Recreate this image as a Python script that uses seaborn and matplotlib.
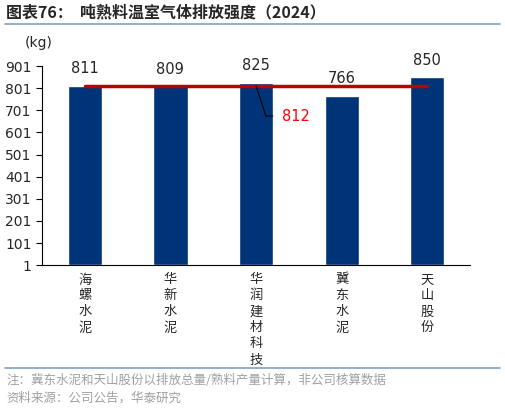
import numpy as np
import pandas as pd
import matplotlib
matplotlib.use("Agg")
import matplotlib.pyplot as plt
import seaborn as sns

# 数据
companies = ["海螺水泥", "华新水泥", "华润建材科技", "冀东水泥", "天山股份"]
emissions = [811, 809, 825, 766, 850]
avg_value = 812
y_ticks = [1, 101, 201, 301, 401, 501, 601, 701, 801, 901]

sns.set_style("white")
plt.rcParams['font.family'] = ['Noto Sans CJK SC', 'DejaVu Sans']

df = pd.DataFrame({"company": companies, "value": emissions})

fig = plt.figure(figsize=(5.05, 4.13), dpi=100)
ax = fig.add_axes([0.083, 0.358, 0.848, 0.482])

sns.barplot(data=df, x="company", y="value", color="#003478", width=0.4,
            saturation=1, ax=ax)

# 平均线
ax.plot([0, len(companies) - 1], [avg_value, avg_value], color="#C00000", lw=2.5)

for i, v in enumerate(emissions):
    ax.annotate(str(v), (i, v), xytext=(0, 7), textcoords="offset points",
                ha="center", va="bottom", fontsize=10.5, family="DejaVu Sans")

ax.annotate(str(avg_value), xy=(2.0, avg_value), xytext=(2.3, 675),
            color="red", fontsize=10.5, va="center", family="DejaVu Sans",
            arrowprops=dict(arrowstyle="-", color="black", lw=0.8,
                            connectionstyle="angle,angleA=0,angleB=-72,rad=0",
                            shrinkA=4, shrinkB=0))

ax.set_ylim(1, 901)
ax.set_yticks(y_ticks)
ax.set_yticklabels([str(t) for t in y_ticks], family="DejaVu Sans", fontsize=10)
ax.set_xlim(-0.5, len(companies) - 0.5)
ax.set_xticks(range(len(companies)))
ax.set_xticklabels(["\n".join(c) for c in companies], fontsize=9.5, linespacing=1.3, va="top")
ax.set_xticks(np.arange(-0.5, len(companies)), minor=True)
ax.tick_params(axis="x", which="major", length=0, pad=6)
ax.tick_params(axis="x", which="minor", length=4, direction="out", color="black", width=0.8)
ax.tick_params(axis="y", length=4, direction="out", color="black", width=0.8, left=True)
ax.set_xlabel("")
ax.set_ylabel("")
for s in ["top", "right"]:
    ax.spines[s].set_visible(False)
for s in ["left", "bottom"]:
    ax.spines[s].set_color("black")
    ax.spines[s].set_linewidth(0.8)

fig.text(0.05, 0.895, "(kg)", fontsize=10, family="DejaVu Sans", va="center")

fig.text(0.012, 0.97, "图表76：  吨熟料温室气体排放强度（2024）", fontsize=11.5,
         fontweight="bold", va="center")
fig.add_artist(plt.Line2D([0.01, 0.99], [0.942, 0.942], color="#7F9FC8", lw=1.2))
fig.add_artist(plt.Line2D([0.01, 0.99], [0.11, 0.11], color="#7F9FC8", lw=1.2))
fig.text(0.012, 0.078, "注：冀东水泥和天山股份以排放总量/熟料产量计算，非公司核算数据",
         fontsize=9, color="#A0A0A0", va="center")
fig.text(0.012, 0.037, "资料来源：公司公告，华泰研究", fontsize=9, color="#A0A0A0", va="center")

fig.savefig("out.png", dpi=100)
